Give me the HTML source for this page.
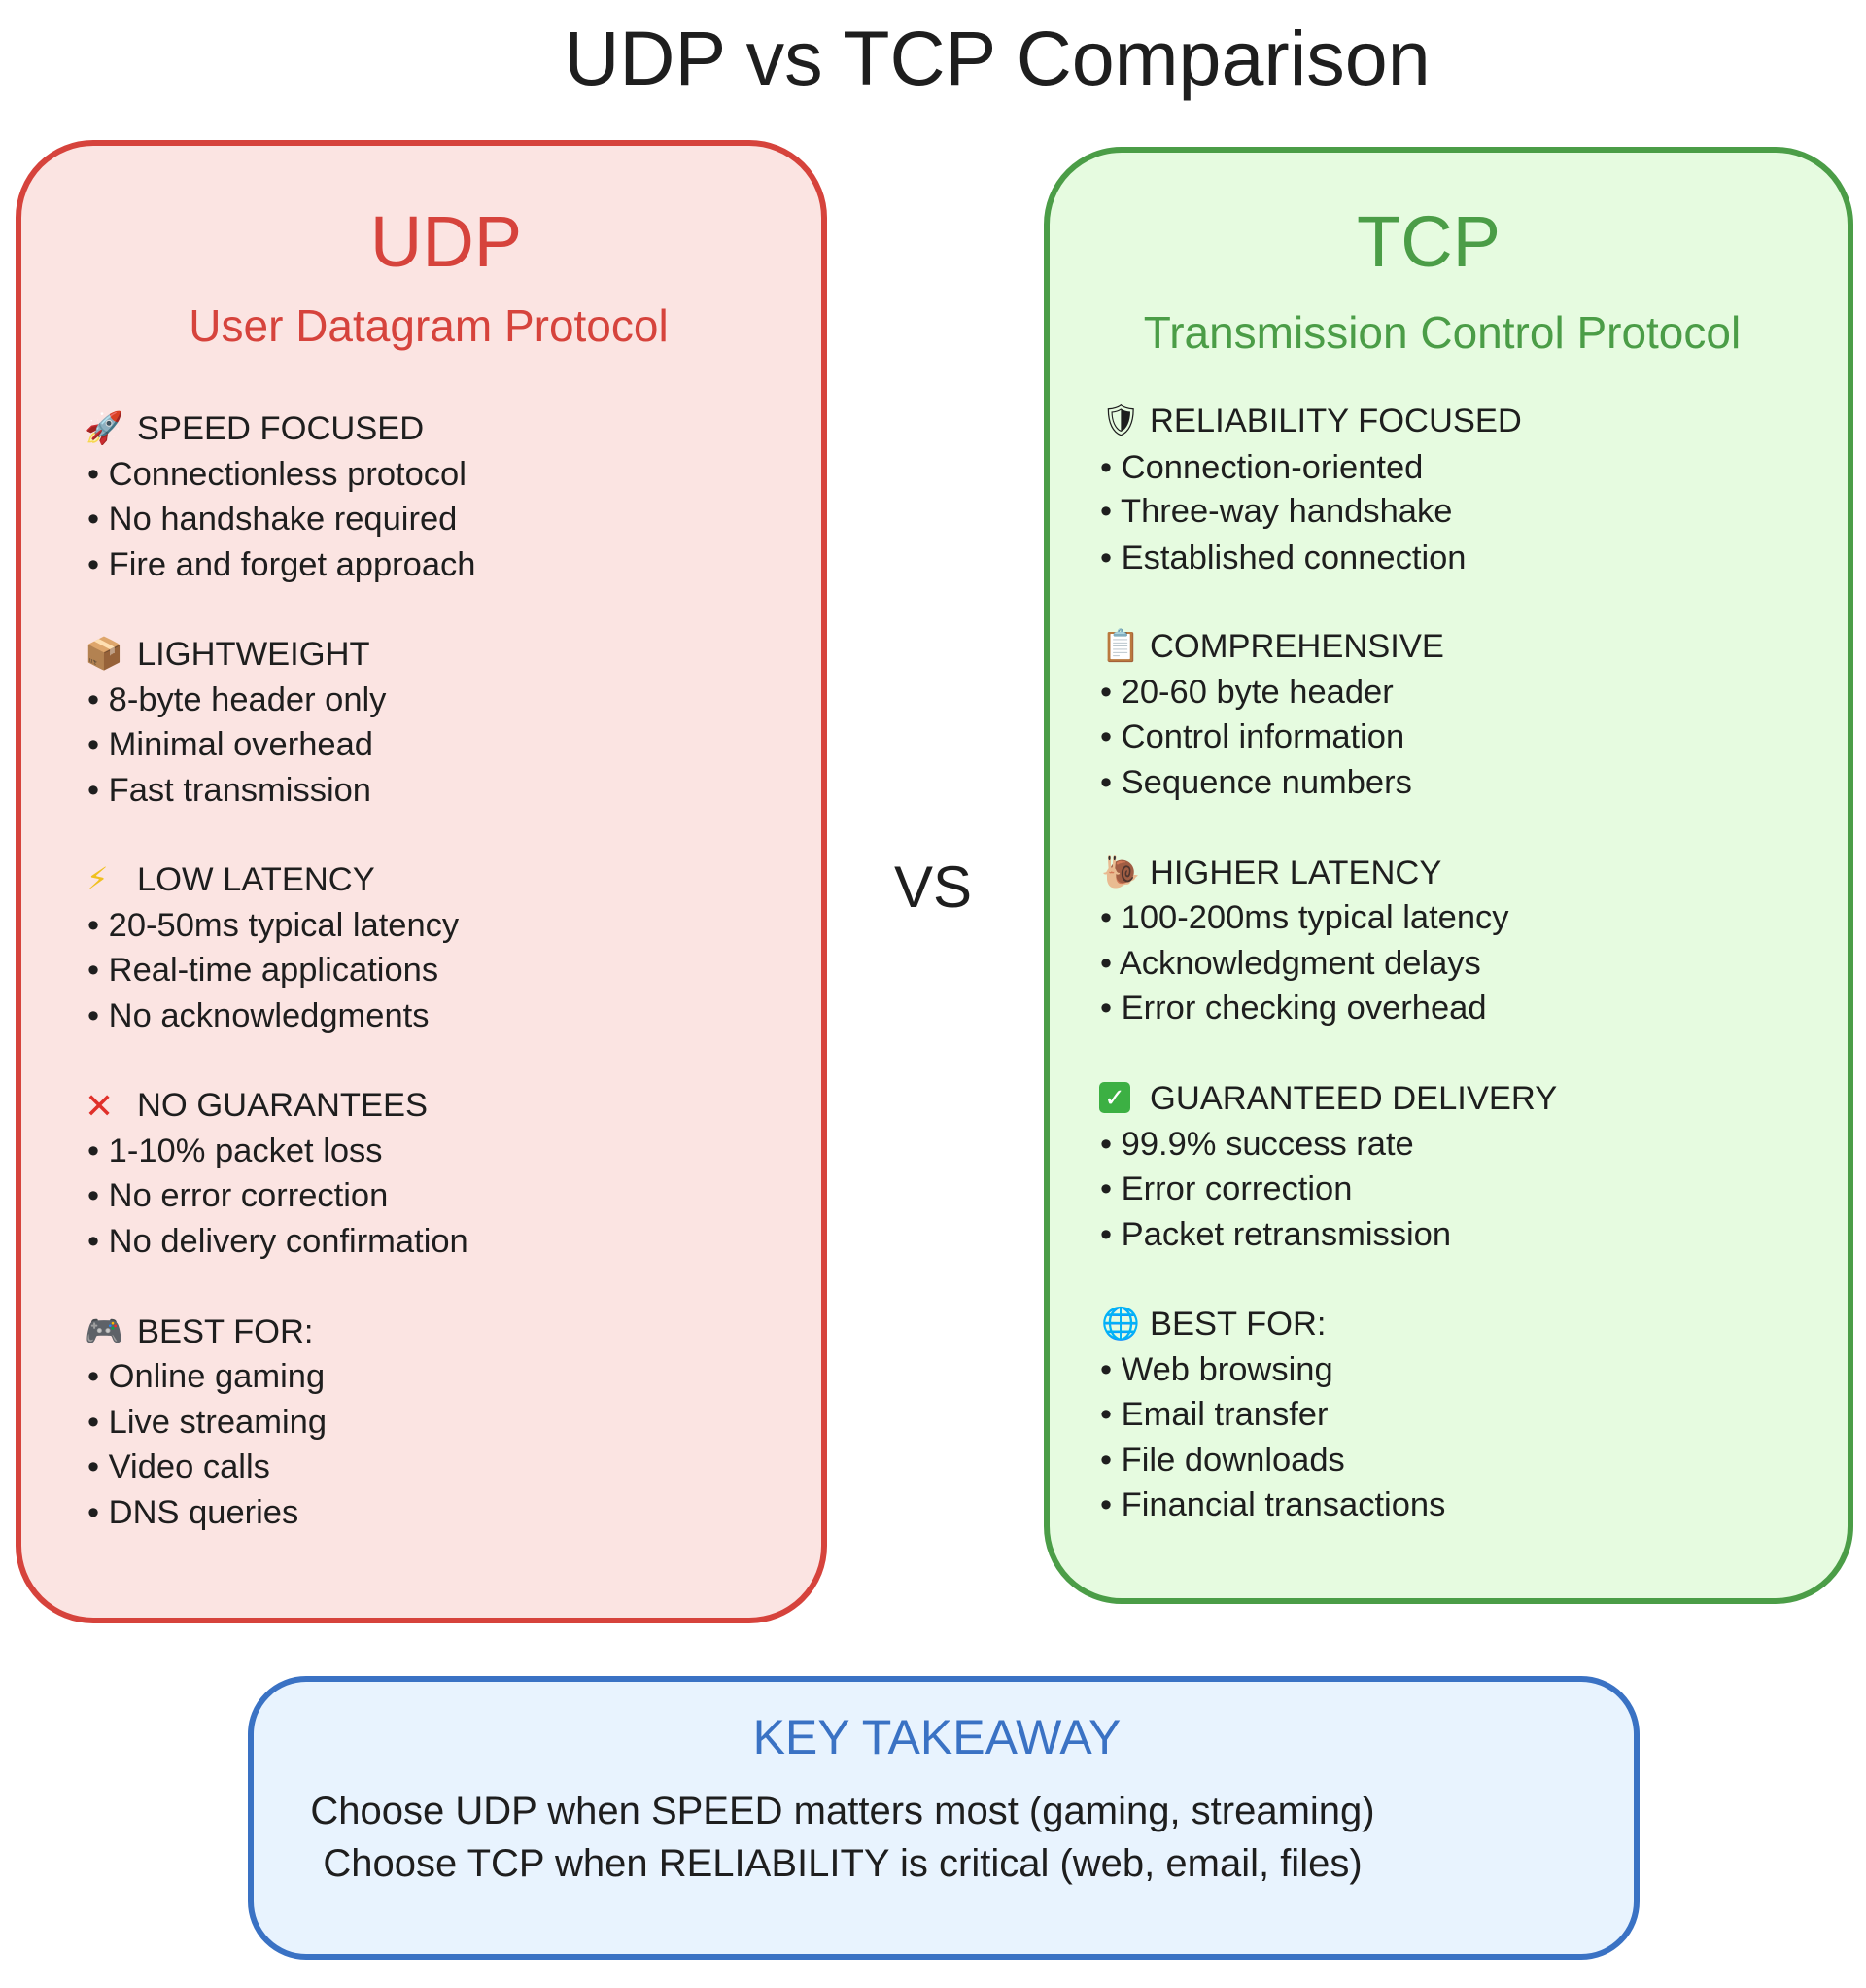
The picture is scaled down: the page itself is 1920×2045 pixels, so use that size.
<!DOCTYPE html>
<html><head><meta charset="utf-8">
<style>
html,body{margin:0;padding:0;background:#fff;}
body{width:1920px;height:2045px;position:relative;overflow:hidden;font-family:"Liberation Sans","DejaVu Sans",sans-serif;color:#1e1e1e;}
.box{position:absolute;box-sizing:border-box;}
.t{position:absolute;line-height:1;white-space:nowrap;}
.c{transform:translateX(-50%);}
.i{font-size:34.5px;}
.e{font-size:32px;}
</style></head><body>
<div class="t c" style="left:1026px;top:20px;font-size:79px;">UDP vs TCP Comparison</div>

<div class="box" style="left:16px;top:144px;width:835px;height:1526px;border:6px solid #d6433c;border-radius:80px;background:#fbe4e2;"></div>
<div class="box" style="left:1074px;top:151px;width:833px;height:1499px;border:6px solid #4b9d47;border-radius:80px;background:#e6fbe0;"></div>
<div class="box" style="left:255px;top:1724px;width:1432px;height:292px;border:6px solid #3a72c4;border-radius:60px;background:#e8f3fe;"></div>

<div class="t c" style="left:459px;top:212px;font-size:74px;color:#d6433c;">UDP</div>
<div class="t c" style="left:441px;top:312px;font-size:46px;color:#d6433c;">User Datagram Protocol</div>
<div class="t c" style="left:1470px;top:212px;font-size:74px;color:#4b9d47;">TCP</div>
<div class="t c" style="left:1484px;top:319px;font-size:46px;color:#4b9d47;">Transmission Control Protocol</div>

<div class="t c" style="left:960px;top:883px;font-size:60px;">VS</div>

<!-- UDP items -->
<div class="t e" style="left:87px;top:424px;">🚀</div><div class="t i" style="left:141px;top:424px;">SPEED FOCUSED</div>
<div class="t i" style="left:90px;top:471px;">• Connectionless protocol</div>
<div class="t i" style="left:90px;top:517px;">• No handshake required</div>
<div class="t i" style="left:90px;top:564px;">• Fire and forget approach</div>
<div class="t e" style="left:87px;top:656px;">📦</div><div class="t i" style="left:141px;top:656px;">LIGHTWEIGHT</div>
<div class="t i" style="left:90px;top:703px;">• 8-byte header only</div>
<div class="t i" style="left:90px;top:749px;">• Minimal overhead</div>
<div class="t i" style="left:90px;top:796px;">• Fast transmission</div>
<div class="t e" style="left:89px;top:888px;color:#f0c020;">⚡</div><div class="t i" style="left:141px;top:888px;">LOW LATENCY</div>
<div class="t i" style="left:90px;top:935px;">• 20-50ms typical latency</div>
<div class="t i" style="left:90px;top:981px;">• Real-time applications</div>
<div class="t i" style="left:90px;top:1028px;">• No acknowledgments</div>
<div class="t e" style="left:87px;top:1120px;color:#e0302a;font-weight:bold;font-size:36px;">✕</div><div class="t i" style="left:141px;top:1120px;">NO GUARANTEES</div>
<div class="t i" style="left:90px;top:1167px;">• 1-10% packet loss</div>
<div class="t i" style="left:90px;top:1213px;">• No error correction</div>
<div class="t i" style="left:90px;top:1260px;">• No delivery confirmation</div>
<div class="t e" style="left:87px;top:1353px;">🎮</div><div class="t i" style="left:141px;top:1353px;">BEST FOR:</div>
<div class="t i" style="left:90px;top:1399px;">• Online gaming</div>
<div class="t i" style="left:90px;top:1446px;">• Live streaming</div>
<div class="t i" style="left:90px;top:1492px;">• Video calls</div>
<div class="t i" style="left:90px;top:1539px;">• DNS queries</div>

<!-- TCP items -->
<div class="t e" style="left:1133px;top:416px;">🛡</div><div class="t i" style="left:1183px;top:416px;">RELIABILITY FOCUSED</div>
<div class="t i" style="left:1132px;top:464px;">• Connection-oriented</div>
<div class="t i" style="left:1132px;top:509px;">• Three-way handshake</div>
<div class="t i" style="left:1132px;top:557px;">• Established connection</div>
<div class="t e" style="left:1133px;top:648px;">📋</div><div class="t i" style="left:1183px;top:648px;">COMPREHENSIVE</div>
<div class="t i" style="left:1132px;top:695px;">• 20-60 byte header</div>
<div class="t i" style="left:1132px;top:741px;">• Control information</div>
<div class="t i" style="left:1132px;top:788px;">• Sequence numbers</div>
<div class="t e" style="left:1133px;top:881px;">🐌</div><div class="t i" style="left:1183px;top:881px;">HIGHER LATENCY</div>
<div class="t i" style="left:1132px;top:927px;">• 100-200ms typical latency</div>
<div class="t i" style="left:1132px;top:974px;">• Acknowledgment delays</div>
<div class="t i" style="left:1132px;top:1020px;">• Error checking overhead</div>
<div class="t e" style="left:1131px;top:1113px;width:32px;height:32px;background:#3cb043;border-radius:5px;color:#fff;text-align:center;line-height:32px;font-size:26px;">✓</div><div class="t i" style="left:1183px;top:1113px;">GUARANTEED DELIVERY</div>
<div class="t i" style="left:1132px;top:1160px;">• 99.9% success rate</div>
<div class="t i" style="left:1132px;top:1206px;">• Error correction</div>
<div class="t i" style="left:1132px;top:1253px;">• Packet retransmission</div>
<div class="t e" style="left:1133px;top:1345px;color:#4a8fd8;">🌐</div><div class="t i" style="left:1183px;top:1345px;">BEST FOR:</div>
<div class="t i" style="left:1132px;top:1392px;">• Web browsing</div>
<div class="t i" style="left:1132px;top:1438px;">• Email transfer</div>
<div class="t i" style="left:1132px;top:1485px;">• File downloads</div>
<div class="t i" style="left:1132px;top:1531px;">• Financial transactions</div>

<!-- Key takeaway -->
<div class="t c" style="left:964px;top:1762px;font-size:50px;color:#3a72c4;">KEY TAKEAWAY</div>
<div class="t c" style="left:867px;top:1843px;font-size:40px;">Choose UDP when SPEED matters most (gaming, streaming)</div>
<div class="t c" style="left:867px;top:1897px;font-size:40px;">Choose TCP when RELIABILITY is critical (web, email, files)</div>
</body></html>
